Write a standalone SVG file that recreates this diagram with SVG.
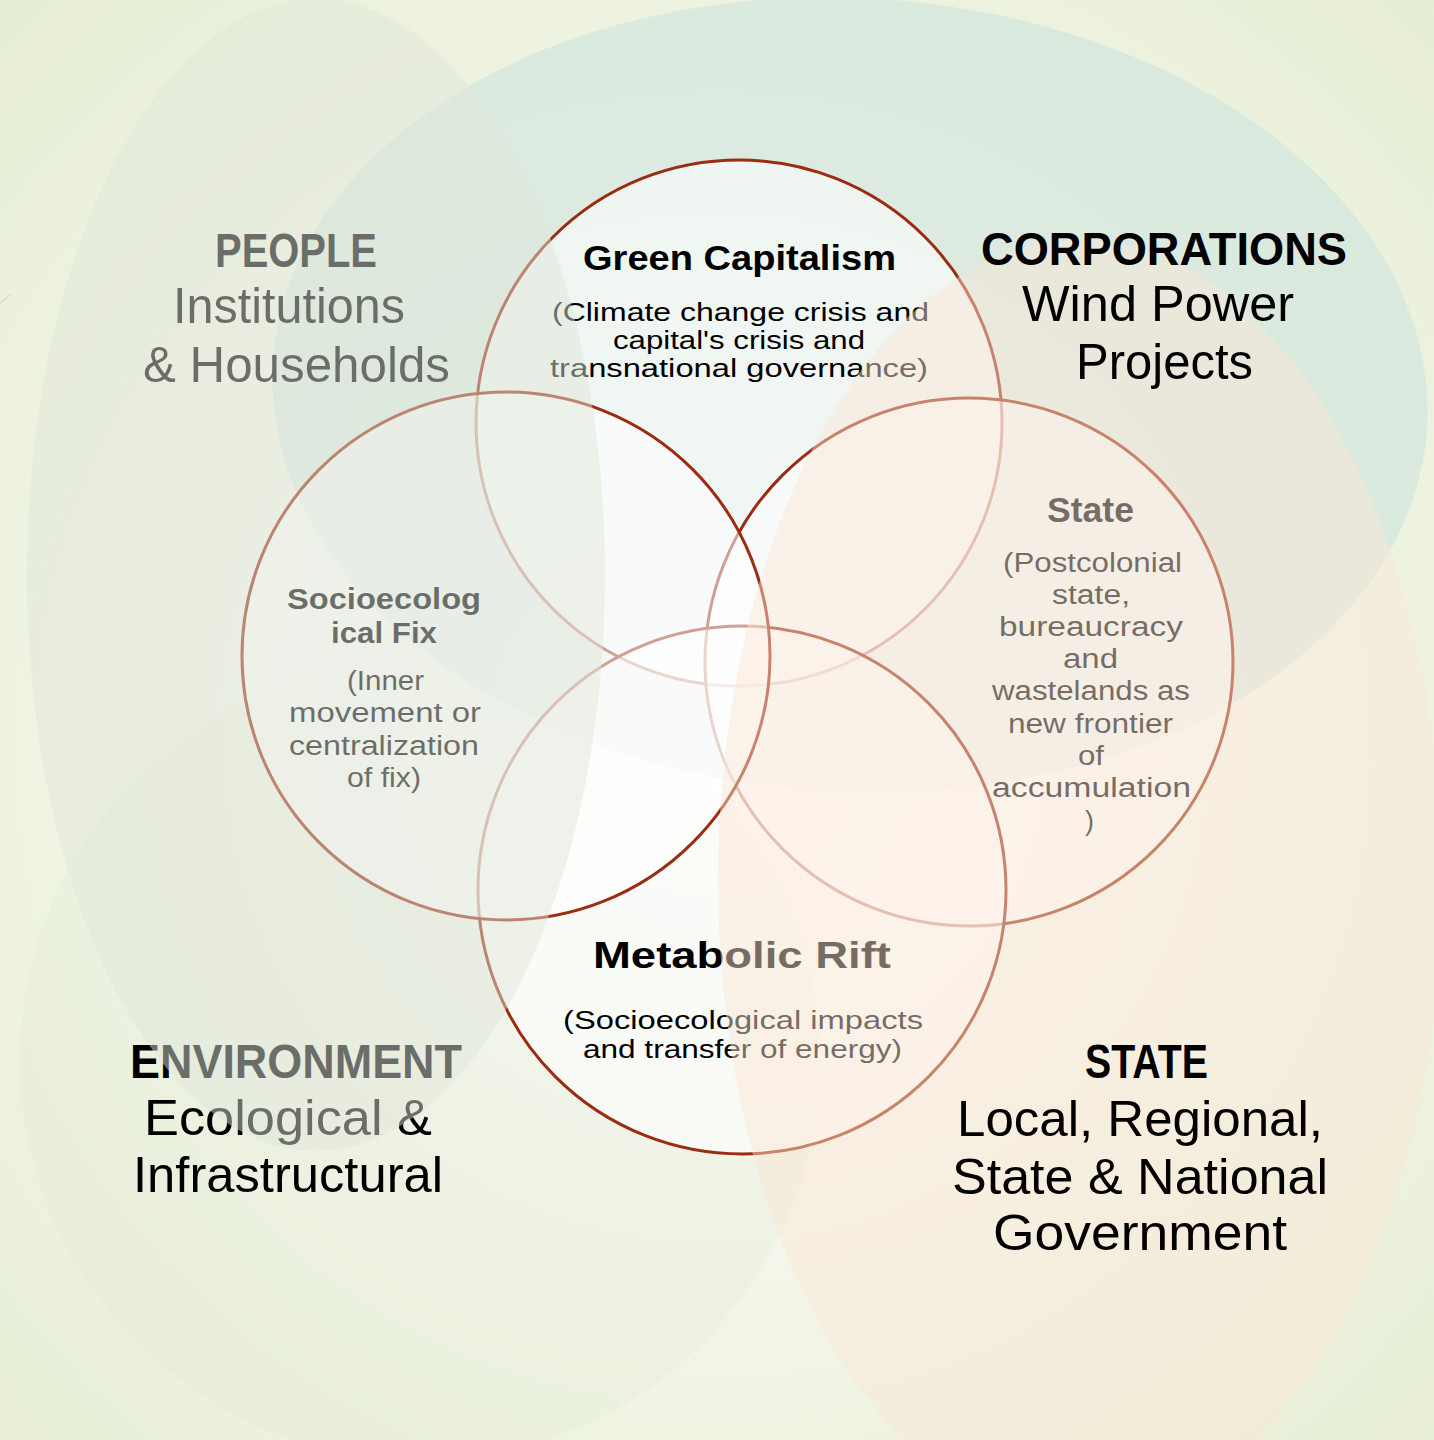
<svg xmlns="http://www.w3.org/2000/svg" width="1434" height="1440" viewBox="0 0 1434 1440">
<defs>
<radialGradient id="bg" cx="50%" cy="52%" r="72%">
<stop offset="0" stop-color="#ffffff"/>
<stop offset="0.45" stop-color="#f4f7ec"/>
<stop offset="1" stop-color="#e6eed3"/>
</radialGradient>
<style>
.t{font-family:"Liberation Sans",Arial,sans-serif;fill:#000}
.b{font-weight:bold}
.big{font-size:50px}
.bigb{font-size:47px}
.ct{font-size:35px}
.cs{font-size:25px}
.ss{font-size:27px}
.ring{fill:#ffffff;fill-opacity:0.55;stroke:#9b2c12;stroke-width:3}
</style>
</defs>
<rect id="background" x="0" y="0" width="1434" height="1440" fill="url(#bg)"/>
<line x1="0" y1="303" x2="11" y2="294" stroke="#c9d1bd" stroke-width="1"/>
<g id="corporations-region"><ellipse cx="850" cy="395" rx="578" ry="397" transform="rotate(3 850 395)" fill="rgb(211,229,222)" fill-opacity="0.7"/></g>
<g id="environment-region"><ellipse cx="420" cy="1060" rx="400" ry="400" fill="rgb(224,231,212)" fill-opacity="0.25"/></g>
<g id="green-capitalism">
<circle class="ring" cx="739" cy="423" r="263"/>
<text class="t b ct" x="583" y="270" textLength="313" lengthAdjust="spacingAndGlyphs">Green Capitalism</text>
<text class="t cs" x="552" y="321" textLength="377" lengthAdjust="spacingAndGlyphs">(Climate change crisis and</text>
<text class="t cs" x="613" y="349" textLength="252" lengthAdjust="spacingAndGlyphs">capital's crisis and</text>
<text class="t cs" x="550" y="377" textLength="378" lengthAdjust="spacingAndGlyphs">transnational governance)</text>
</g>
<g id="state-circle">
<circle class="ring" cx="969" cy="662" r="264"/>
<text class="t b ct" x="1047" y="522" textLength="87" lengthAdjust="spacingAndGlyphs">State</text>
<text class="t ss" x="1003" y="572" textLength="179" lengthAdjust="spacingAndGlyphs">(Postcolonial</text>
<text class="t ss" x="1052" y="604" textLength="78" lengthAdjust="spacingAndGlyphs">state,</text>
<text class="t ss" x="999" y="636" textLength="184" lengthAdjust="spacingAndGlyphs">bureaucracy</text>
<text class="t ss" x="1063" y="668" textLength="55" lengthAdjust="spacingAndGlyphs">and</text>
<text class="t ss" x="992" y="700" textLength="198" lengthAdjust="spacingAndGlyphs">wastelands as</text>
<text class="t ss" x="1008" y="733" textLength="165" lengthAdjust="spacingAndGlyphs">new frontier</text>
<text class="t ss" x="1078" y="765" textLength="26" lengthAdjust="spacingAndGlyphs">of</text>
<text class="t ss" x="992" y="797" textLength="199" lengthAdjust="spacingAndGlyphs">accumulation</text>
<text class="t ss" x="1085" y="830">)</text>
</g>
<g id="metabolic-rift">
<circle class="ring" cx="742" cy="890" r="264"/>
<text class="t b" font-size="36" x="593" y="968" textLength="298" lengthAdjust="spacingAndGlyphs">Metabolic Rift</text>
<text class="t cs" x="563" y="1029" textLength="360" lengthAdjust="spacingAndGlyphs">(Socioecological impacts</text>
<text class="t cs" x="583" y="1058" textLength="319" lengthAdjust="spacingAndGlyphs">and transfer of energy)</text>
</g>
<g id="socioecological-fix">
<circle class="ring" cx="506" cy="656" r="264"/>
<text class="t b" font-size="30" x="287" y="609" textLength="194" lengthAdjust="spacingAndGlyphs">Socioecolog</text>
<text class="t b" font-size="30" x="331" y="643" textLength="106" lengthAdjust="spacingAndGlyphs">ical Fix</text>
<text class="t ss" x="347" y="690" textLength="77" lengthAdjust="spacingAndGlyphs">(Inner</text>
<text class="t ss" x="289" y="722" textLength="192" lengthAdjust="spacingAndGlyphs">movement or</text>
<text class="t ss" x="289" y="755" textLength="190" lengthAdjust="spacingAndGlyphs">centralization</text>
<text class="t ss" x="347" y="787" textLength="74" lengthAdjust="spacingAndGlyphs">of fix)</text>
</g>
<g id="people-label">
<text class="t b" font-size="49" x="215" y="267" textLength="162" lengthAdjust="spacingAndGlyphs">PEOPLE</text>
<text class="t big" x="173" y="323" textLength="232" lengthAdjust="spacingAndGlyphs">Institutions</text>
<text class="t big" x="143" y="382" textLength="307" lengthAdjust="spacingAndGlyphs">&amp; Households</text>
</g>
<g id="environment-label">
<text class="t b" font-size="48" x="130" y="1078" textLength="332" lengthAdjust="spacingAndGlyphs">ENVIRONMENT</text>
<text class="t big" x="144" y="1135" textLength="288" lengthAdjust="spacingAndGlyphs">Ecological &amp;</text>
<text class="t big" x="133" y="1192" textLength="310" lengthAdjust="spacingAndGlyphs">Infrastructural</text>
</g>
<g id="people-region"><ellipse cx="316" cy="575" rx="289" ry="576" fill="rgb(223,229,217)" fill-opacity="0.48"/></g>
<g id="state-region"><ellipse cx="1080" cy="880" rx="362" ry="640" fill="rgb(250,230,212)" fill-opacity="0.47"/></g>
<g id="corporations-label">
<text class="t b bigb" x="981" y="265" textLength="366" lengthAdjust="spacingAndGlyphs">CORPORATIONS</text>
<text class="t big" x="1022" y="321" textLength="272" lengthAdjust="spacingAndGlyphs">Wind Power</text>
<text class="t big" x="1076" y="379" textLength="177" lengthAdjust="spacingAndGlyphs">Projects</text>
</g>
<g id="state-label">
<text class="t b" font-size="48" x="1085" y="1078" textLength="123" lengthAdjust="spacingAndGlyphs">STATE</text>
<text class="t big" x="957" y="1136" textLength="366" lengthAdjust="spacingAndGlyphs">Local, Regional,</text>
<text class="t big" x="952" y="1194" textLength="376" lengthAdjust="spacingAndGlyphs">State &amp; National</text>
<text class="t big" x="993" y="1250" textLength="294" lengthAdjust="spacingAndGlyphs">Government</text>
</g>
<g id="connectors"/>
</svg>
